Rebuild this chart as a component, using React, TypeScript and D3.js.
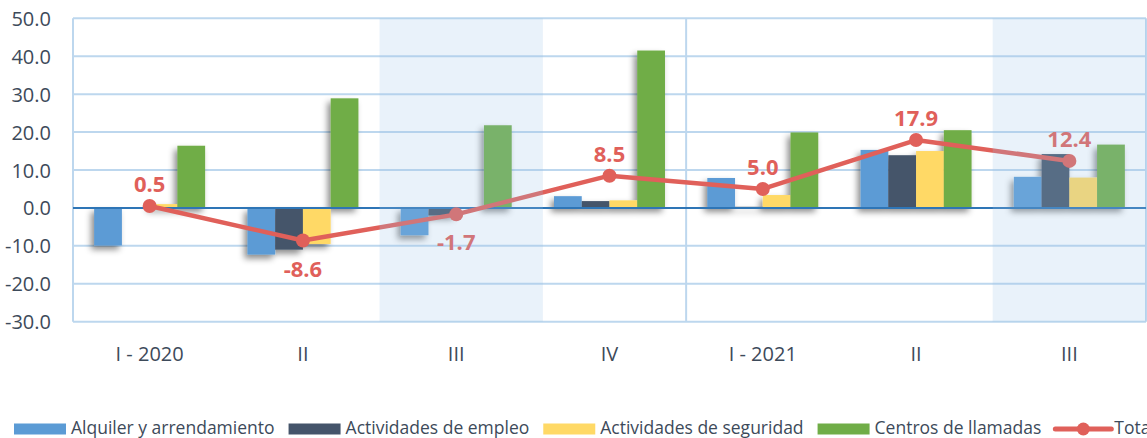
import React, { useEffect, useRef } from "react";
import * as d3 from "d3";

const categories = ["I - 2020", "II", "III", "IV", "I - 2021", "II", "III"];
const seriesNames = [
  "Alquiler y arrendamiento",
  "Actividades de empleo",
  "Actividades de seguridad",
  "Centros de llamadas",
];
const alquiler = [-9.9, -12.3, -7.2, 3.1, 7.9, 15.3, 8.2];
const empleo = [0, -11.0, -2.0, 1.8, 0.3, 13.9, 14.2];
const seguridad = [1.0, -9.5, 0, 2.0, 3.4, 15.0, 8.0];
const llamadas = [16.4, 28.9, 21.8, 41.5, 19.9, 20.5, 16.7];
const totalName = "Total";
const total = [0.5, -8.6, -1.7, 8.5, 5.0, 17.9, 12.4];
const yTicks = [-30, -20, -10, 0, 10, 20, 30, 40, 50];
const highlighted = [2, 6];

const barColors = ["#5b9bd5", "#44546a", "#ffd966", "#70ad47"];
const lineColor = "#e0605a";
const textColor = "#3d4a5a";
const FONT = "'Open Sans', 'Noto Sans', sans-serif";

const fmt = (v: number) => d3.format(".1f")(v).replace("\u2212", "-");

export default function App() {
  const ref = useRef<SVGSVGElement>(null);

  useEffect(() => {
    const svg = d3.select(ref.current);
    svg.selectAll("*").remove();

    const left = 73, right = 1146, top = 18.3, bottom = 321.7;

    const series = [alquiler, empleo, seguridad, llamadas];

    const x = d3.scaleBand<number>().domain(categories.map((_, i) => i)).range([left, right]).padding(0);
    const y = d3.scaleLinear().domain([-30, 50]).range([bottom, top]);
    const groupW = x.bandwidth() * 0.724;
    const x1 = d3.scaleBand<number>().domain(series.map((_, i) => i)).range([0, groupW]).padding(0);

    const defs = svg.append("defs");
    const f = defs.append("filter").attr("id", "sh").attr("x", "-30%").attr("y", "-30%").attr("width", "160%").attr("height", "160%");
    f.append("feDropShadow").attr("dx", -3).attr("dy", 4).attr("stdDeviation", 3).attr("flood-color", "#000").attr("flood-opacity", 0.45);

    // gridlines
    svg.append("g").selectAll("line").data(yTicks.filter((t) => t !== 0)).join("line")
      .attr("x1", left).attr("x2", right).attr("y1", (d) => y(d)).attr("y2", (d) => y(d))
      .attr("stroke", "#bdd7ee").attr("stroke-width", 2);

    // vertical lines
    const vlines = [left, x(4)!, right];
    svg.append("g").selectAll("line").data(vlines).join("line")
      .attr("x1", (d) => d).attr("x2", (d) => d).attr("y1", top).attr("y2", bottom)
      .attr("stroke", "#bdd7ee").attr("stroke-width", 2);

    // y tick labels
    svg.append("g").selectAll("text").data(yTicks).join("text")
      .attr("x", 51).attr("y", (d) => y(d) + 7.5)
      .attr("text-anchor", "end").attr("font-family", FONT).attr("font-size", 20)
      .attr("fill", textColor).text((d) => fmt(d));

    // x labels
    svg.append("g").selectAll("text").data(categories).join("text")
      .attr("x", (_, i) => x(i)! + x.bandwidth() / 2).attr("y", 361)
      .attr("text-anchor", "middle").attr("font-family", FONT).attr("font-size", 20)
      .attr("fill", textColor).text((d) => d);

    // bars
    const groups = svg.append("g").selectAll("g").data(categories.map((_, i) => i)).join("g")
      .attr("transform", (i) => `translate(${x(i)! + (x.bandwidth() - groupW) / 2},0)`)
      .attr("filter", "url(#sh)");
    groups.selectAll("rect").data((i) => series.map((s, k) => ({ k, v: s[i] }))).join("rect")
      .attr("x", (d) => x1(d.k)!).attr("width", x1.bandwidth())
      .attr("y", (d) => Math.min(y(d.v), y(0))).attr("height", (d) => Math.abs(y(d.v) - y(0)))
      .attr("fill", (d) => barColors[d.k]);

    // zero line
    svg.append("line").attr("x1", left).attr("x2", right).attr("y1", y(0)).attr("y2", y(0))
      .attr("stroke", "#2e75b6").attr("stroke-width", 2);

    // line
    const cx = (i: number) => x(i)! + x.bandwidth() / 2;
    const line = d3.line<number>().x((_, i) => cx(i)).y((d) => y(d));
    svg.append("path").attr("d", line(total)!).attr("fill", "none")
      .attr("stroke", lineColor).attr("stroke-width", 4.5).attr("stroke-linejoin", "round");
    svg.append("g").selectAll("circle").data(total).join("circle")
      .attr("cx", (_, i) => cx(i)).attr("cy", (d) => y(d)).attr("r", 7).attr("fill", lineColor);
    svg.append("g").selectAll("text").data(total).join("text")
      .attr("x", (_, i) => cx(i)).attr("y", (d) => (d >= 0 ? y(d) - 14 : y(d) + 36))
      .attr("text-anchor", "middle").attr("font-family", FONT).attr("font-weight", 700)
      .attr("font-size", 22).attr("fill", lineColor).text((d) => fmt(d));

    // highlight overlays
    svg.append("g").selectAll("rect").data(highlighted).join("rect")
      .attr("x", (i) => x(i)!).attr("y", top)
      .attr("width", (i) => Math.min(x.bandwidth() + (i === 2 ? 10 : 0), right - x(i)!))
      .attr("height", bottom - top)
      .attr("fill", "#9dc3e6").attr("opacity", 0.22);

    // legend
    const lg = svg.append("g");
    let lx = 14;
    const items = [...seriesNames.map((n, k) => ({ n, k })), { n: totalName, k: -1 }];
    items.forEach((it) => {
      if (it.k >= 0) {
        lg.append("rect").attr("x", lx).attr("y", 423.5).attr("width", 52).attr("height", 11).attr("fill", barColors[it.k]);
      } else {
        lg.append("line").attr("x1", lx).attr("x2", lx + 56).attr("y1", 429).attr("y2", 429)
          .attr("stroke", lineColor).attr("stroke-width", 5).attr("stroke-linecap", "round");
        lg.append("circle").attr("cx", lx + 28).attr("cy", 429).attr("r", 6.5).attr("fill", lineColor);
      }
      const tx = lx + (it.k >= 0 ? 57 : 59);
      const t = lg.append("text").attr("x", tx).attr("y", 434).attr("font-family", FONT)
        .attr("font-size", 17.5).attr("fill", textColor).text(it.n);
      const w = (t.node() as SVGTextElement).getComputedTextLength();
      lx = tx + w + 14;
    });
  }, []);

  return (
    <svg
      ref={ref}
      width={1147}
      height={438}
      style={{ position: "absolute", left: 0, top: 0, background: "#fff" }}
    />
  );
}
